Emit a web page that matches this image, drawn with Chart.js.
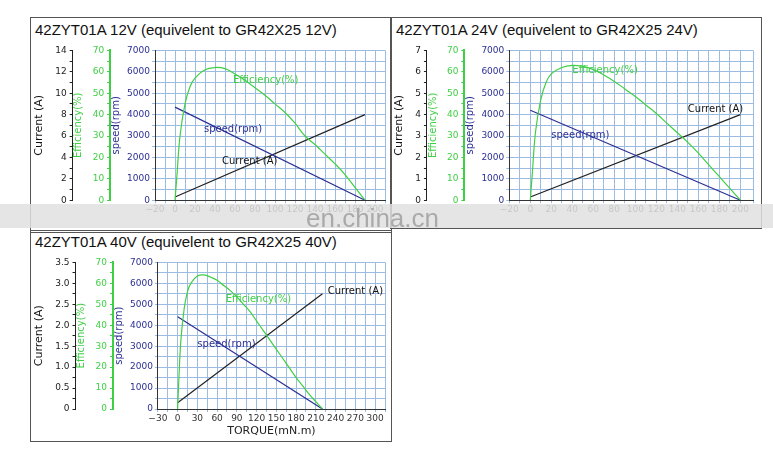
<!DOCTYPE html>
<html>
<head>
<meta charset="utf-8">
<script src="https://cdn.jsdelivr.net/npm/chart.js@4.4.0/dist/chart.umd.min.js"></script>
<style>
  body { margin:0; background:#fff; font-family:"Liberation Sans", Arial, sans-serif; }
  .box { position:absolute; border:1px solid #555; }
  .ttl { position:absolute; font-size:15px; color:#111; }
  .cv { position:absolute; }
  #band { position:absolute; left:0; top:204px; width:773px; height:24px; background:rgba(225,225,225,0.85); }
  #wm { position:absolute; left:306px; top:203px; font-size:26px; color:#aaa; }
</style>
</head>
<body>
<div class="box" style="left:30px;top:17px;width:360px;height:214px"></div>
<div class="box" style="left:390px;top:17px;width:370px;height:210px"></div>
<div class="box" style="left:30px;top:230px;width:360px;height:210px"></div>
<div class="ttl" style="left:35px;top:21px">42ZYT01A 12V (equivelent to GR42X25 12V)</div>
<div class="ttl" style="left:396px;top:21px">42ZYT01A 24V (equivelent to GR42X25 24V)</div>
<div class="ttl" style="left:35px;top:233px">42ZYT01A 40V (equivelent to GR42X25 40V)</div>
<canvas id="c1" class="cv" style="left:31px;top:42px;width:358px;height:174px" width="358" height="174"></canvas>
<canvas id="c2" class="cv" style="left:391px;top:42px;width:366px;height:174px" width="366" height="174"></canvas>
<canvas id="c3" class="cv" style="left:31px;top:254px;width:358px;height:184px" width="358" height="184"></canvas>
<div id="band"></div>
<div id="wm">en.china.cn</div>
<script>
// 12V panel
var torque12 = [0, 2, 5, 10, 15, 20, 30, 40, 50, 60, 70, 80, 90, 100, 110, 120, 130, 140, 150, 160, 170, 180, 190];
var eff12 = [0, 12, 30, 45, 53, 57, 61, 62, 61.5, 59, 56, 52.5, 49, 45, 41, 36, 30, 26, 21.5, 17, 12, 6, 0];
var speed12 = [{x: 0, y: 4350}, {x: 190, y: 0}];
var current12 = [{x: 0, y: 0.3}, {x: 190, y: 8}];

// 24V panel
var torque24 = [0, 2, 5, 10, 15, 20, 30, 40, 50, 60, 70, 80, 90, 100, 110, 120, 130, 140, 150, 160, 170, 180, 190, 200];
var eff24 = [0, 13, 32, 47, 55, 59, 62, 63, 62.5, 61, 58.5, 55.5, 52, 48.5, 44.5, 40.5, 36, 31.5, 27, 22, 16.5, 11, 5.5, 0];
var speed24 = [{x: 0, y: 4200}, {x: 200, y: 0}];
var current24 = [{x: 0, y: 0.15}, {x: 200, y: 4}];

// 40V panel
var torque40 = [0, 2, 5, 10, 15, 20, 30, 40, 50, 60, 70, 80, 90, 100, 110, 120, 130, 140, 150, 160, 170, 180, 190, 200, 210, 220];
var eff40 = [0, 15, 33, 48, 56, 60, 63.5, 64, 63, 61.5, 59, 56.5, 53.5, 50, 46.5, 42, 37.5, 33, 28.5, 24, 19.5, 15, 11, 7, 3.5, 0];
var speed40 = [{x: 0, y: 4400}, {x: 220, y: 0}];
var current40 = [{x: 0, y: 0.15}, {x: 220, y: 2.75}];

var GREEN = '#3fcf45', BLUE = '#2b2f95', GRID = '#9cbbe0';

function pts(xs, ys) { return xs.map(function (x, i) { return {x: x, y: ys[i]}; }); }

var lineLabels = {
  id: 'lineLabels',
  afterDatasetsDraw: function (chart) {
    var ctx = chart.ctx, xs = chart.scales.x, ys = chart.scales.ySpd;
    ctx.save();
    ctx.font = '10px "DejaVu Sans"';
    chart.options.plugins.lineLabels.items.forEach(function (it) {
      ctx.fillStyle = it.color;
      ctx.fillText(it.text, xs.getPixelForValue(it.x), ys.getPixelForValue(it.y));
    });
    ctx.restore();
  }
};

function makeChart(id, cfg) {
  var sideFont = {family: 'DejaVu Sans', size: 9};
  new Chart(document.getElementById(id), {
    type: 'line',
    data: {
      datasets: [
        {data: pts(cfg.torque, cfg.eff), yAxisID: 'yEff', borderColor: GREEN, borderWidth: 1.2, tension: 0.4, pointRadius: 0},
        {data: cfg.speed, yAxisID: 'ySpd', borderColor: BLUE, borderWidth: 1.2, pointRadius: 0},
        {data: cfg.current, yAxisID: 'yCur', borderColor: '#222', borderWidth: 1.2, pointRadius: 0}
      ]
    },
    plugins: [lineLabels],
    options: {
      responsive: false,
      animation: false,
      layout: {padding: {left: 0, right: 4, top: 6, bottom: 0}},
      plugins: {
        legend: {display: false},
        tooltip: {enabled: false},
        lineLabels: {items: cfg.labels}
      },
      scales: {
        x: {
          type: 'linear', min: cfg.xMin, max: cfg.xMax,
          grid: {color: GRID, tickLength: 3},
          border: {color: '#333'},
          title: {display: !!cfg.xTitle, text: cfg.xTitle || '', font: {family: 'DejaVu Sans', size: 11}, padding: 0, color: '#222'},
          ticks: {stepSize: cfg.xStep, autoSkip: false, maxRotation: 0, font: sideFont, color: '#333', padding: 1,
            callback: function (v) { return (v % (cfg.xStep * 2) === 0) ? (v < 0 ? '\u2212' + (-v) : v) : ''; }}
        },
        ySpd: {
          position: 'left', weight: 1, min: 0, max: 7000,
          grid: {color: GRID, tickLength: 3},
          border: {color: '#333'},
          title: {display: true, text: 'speed(rpm)', color: BLUE, font: {family: 'DejaVu Sans', size: 10}, padding: {top: 0, bottom: 3}},
          ticks: {stepSize: 500, autoSkip: false, font: sideFont, color: BLUE, padding: 2,
            callback: function (v) { return v % 1000 === 0 ? v : ''; }}
        },
        yEff: {
          position: 'left', weight: 2, min: 0, max: 70,
          grid: {drawOnChartArea: false, color: GREEN, tickLength: 3},
          border: {color: GREEN, width: 2},
          title: {display: true, text: 'Efficiency(%)', color: GREEN, font: {family: 'DejaVu Sans', size: 10}, padding: {top: 0, bottom: 5}},
          ticks: {stepSize: 5, autoSkip: false, font: sideFont, color: GREEN, padding: 3,
            callback: function (v) { return v % 10 === 0 ? v : ''; }}
        },
        yCur: {
          position: 'left', weight: 3, min: 0, max: cfg.curMax,
          grid: {drawOnChartArea: false, color: '#222', tickLength: 3},
          border: {color: '#222'},
          title: {display: true, text: 'Current (A)', color: '#111', font: {family: 'DejaVu Sans', size: 11}, padding: {top: 2, bottom: 6}},
          ticks: {stepSize: cfg.curStep / 2, autoSkip: false, font: sideFont, color: '#222', padding: 3,
            callback: function (v) {
              var k = Math.round(v / cfg.curStep * 2);
              if (k % 2) return '';
              return cfg.curStep < 1 && v !== 0 ? v.toFixed(1) : v;
            }}
        }
      }
    }
  });
}

makeChart('c1', {
  torque: torque12, eff: eff12, speed: speed12, current: current12,
  xMin: -20, xMax: 210, xStep: 10, curMax: 14, curStep: 2,
  labels: [
    {text: 'Efficiency(%)', x: 58, y: 5500, color: GREEN},
    {text: 'speed(rpm)', x: 29, y: 3200, color: BLUE},
    {text: 'Current (A)', x: 47, y: 1700, color: '#111'}
  ]
});
makeChart('c2', {
  torque: torque24, eff: eff24, speed: speed24, current: current24,
  xMin: -20, xMax: 212, xStep: 10, curMax: 7, curStep: 1,
  labels: [
    {text: 'Efficiency(%)', x: 40, y: 5950, color: GREEN},
    {text: 'speed(rpm)', x: 20, y: 2900, color: BLUE},
    {text: 'Current (A)', x: 150, y: 4100, color: '#111'}
  ]
});
makeChart('c3', {
  torque: torque40, eff: eff40, speed: speed40, current: current40,
  xMin: -30, xMax: 315, xStep: 15, curMax: 3.5, curStep: 0.5,
  xTitle: 'TORQUE(mN.m)',
  labels: [
    {text: 'Efficiency(%)', x: 73, y: 5100, color: GREEN},
    {text: 'speed(rpm)', x: 30, y: 2950, color: BLUE},
    {text: 'Current (A)', x: 228, y: 5500, color: '#111'}
  ]
});
</script>
</body>
</html>
